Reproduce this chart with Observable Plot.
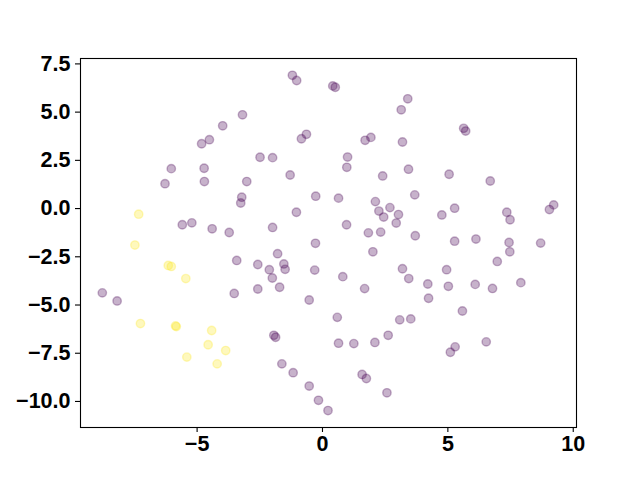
<!DOCTYPE html>
<html>
<head>
<meta charset="utf-8">
<script src="https://cdn.jsdelivr.net/npm/d3@7"></script>
<script src="https://cdn.jsdelivr.net/npm/@observablehq/plot@0.6"></script>
<style>
  html, body { margin: 0; padding: 0; background: white; }
</style>
</head>
<body>
<div id="chart"></div>
<script>
// Cluster 0 (purple) points
const purpleX = [-1.20,-1.03,0.41,0.51,-3.19,-3.98,-4.82,-4.51,-0.64,-0.84,-2.49,-1.99,-6.03,-4.72,-1.29,-6.28,-4.71,-3.02,-3.22,-3.26,-0.27,-1.04,-5.59,-5.21,-4.40,-3.72,-1.99,-0.28,
  3.40,3.14,5.63,5.71,1.70,1.93,3.19,1.00,0.97,2.40,3.43,5.05,6.69,0.64,2.11,2.25,2.44,2.69,3.03,2.94,3.68,4.76,5.27,7.35,7.48,9.05,9.22,0.96,1.83,2.32,3.70,5.27,6.12,7.44,8.70,
  -3.42,-2.58,-1.79,-2.12,-1.54,-1.49,-2.00,-0.31,-8.78,-8.19,-3.52,-2.58,-1.71,-0.53,-1.94,-1.87,-1.62,-1.17,-0.53,-0.16,0.22,
  2.01,7.47,3.19,0.81,3.44,1.68,4.95,4.20,5.02,4.23,6.09,6.78,6.97,7.91,5.58,0.59,3.08,3.52,2.62,0.64,1.25,2.09,5.29,5.10,6.53,1.58,1.75,2.57];
const purpleY = [6.91,6.64,6.36,6.29,4.86,4.29,3.36,3.57,3.85,3.62,2.66,2.64,2.07,2.09,1.74,1.29,1.40,1.40,0.59,0.29,0.64,-0.19,-0.84,-0.74,-1.05,-1.24,-0.98,-1.80,
  5.69,5.12,4.16,4.02,3.54,3.69,3.45,2.67,2.14,1.69,2.04,1.78,1.43,0.54,0.36,-0.13,-0.44,0.05,-0.31,-0.75,0.71,-0.33,0.02,-0.19,-0.58,-0.05,0.19,-0.84,-1.26,-1.22,-1.41,-1.69,-1.58,-1.76,-1.79,
  -2.69,-2.90,-2.34,-3.17,-2.87,-3.15,-3.60,-3.19,-4.37,-4.79,-4.40,-4.17,-4.08,-4.74,-6.57,-6.67,-8.05,-8.51,-9.20,-9.94,-10.47,
  -2.24,-2.24,-3.12,-3.53,-3.63,-4.15,-3.17,-3.91,-4.03,-4.65,-3.93,-4.14,-2.74,-3.84,-5.31,-5.64,-5.77,-5.72,-6.57,-6.98,-7.00,-6.94,-7.17,-7.45,-6.91,-8.60,-8.81,-9.55];
// Cluster 1 (yellow) points
const yellowX = [-7.33,-7.48,-6.15,-6.03,-5.45,-7.26,-5.86,-5.83,-4.42,-4.56,-3.86,-5.41,-4.20];
const yellowY = [-0.29,-1.89,-2.95,-3.00,-3.63,-5.96,-6.08,-6.12,-6.32,-7.06,-7.36,-7.70,-8.05];

const xTicks = [-5, 0, 5, 10];
const yTicks = [-10, -7.5, -5, -2.5, 0, 2.5, 5, 7.5];
const clusterColors = ["#440154", "#fde725"];

const points = [
  ...purpleX.map((x, i) => ({x, y: purpleY[i], c: 0})),
  ...yellowX.map((x, i) => ({x, y: yellowY[i], c: 1}))
];

const minus = s => s.replace("-", "\u2212");
const fmtX = d => minus(d3.format("d")(d));
const fmtY = d => minus(d3.format(".1f")(d));

const chart = Plot.plot({
  width: 640,
  height: 480,
  marginLeft: 80,
  marginRight: 64,
  marginTop: 58,
  marginBottom: 53,
  style: {
    fontFamily: "'Liberation Sans', Arial, sans-serif",
    fontSize: "21.5px",
    fontWeight: "bold",
    background: "white",
    color: "black"
  },
  x: {domain: [-9.65, 10.13], label: null},
  y: {domain: [-11.35, 7.78], label: null},
  marks: [
    Plot.dot(points, {
      x: "x", y: "y", r: 4.2,
      fill: d => clusterColors[d.c], fillOpacity: 0.3,
      stroke: d => clusterColors[d.c], strokeOpacity: 0.3, strokeWidth: 1.4
    }),
    Plot.frame({stroke: "black", strokeWidth: 1.1}),
    Plot.axisX({ticks: xTicks, tickSize: 5, tickPadding: 3, tickFormat: fmtX, label: null, strokeWidth: 1.1}),
    Plot.axisY({ticks: yTicks, tickSize: 5, tickPadding: 5, tickFormat: fmtY, label: null, strokeWidth: 1.1})
  ]
});
document.getElementById("chart").appendChild(chart);
</script>
</body>
</html>
